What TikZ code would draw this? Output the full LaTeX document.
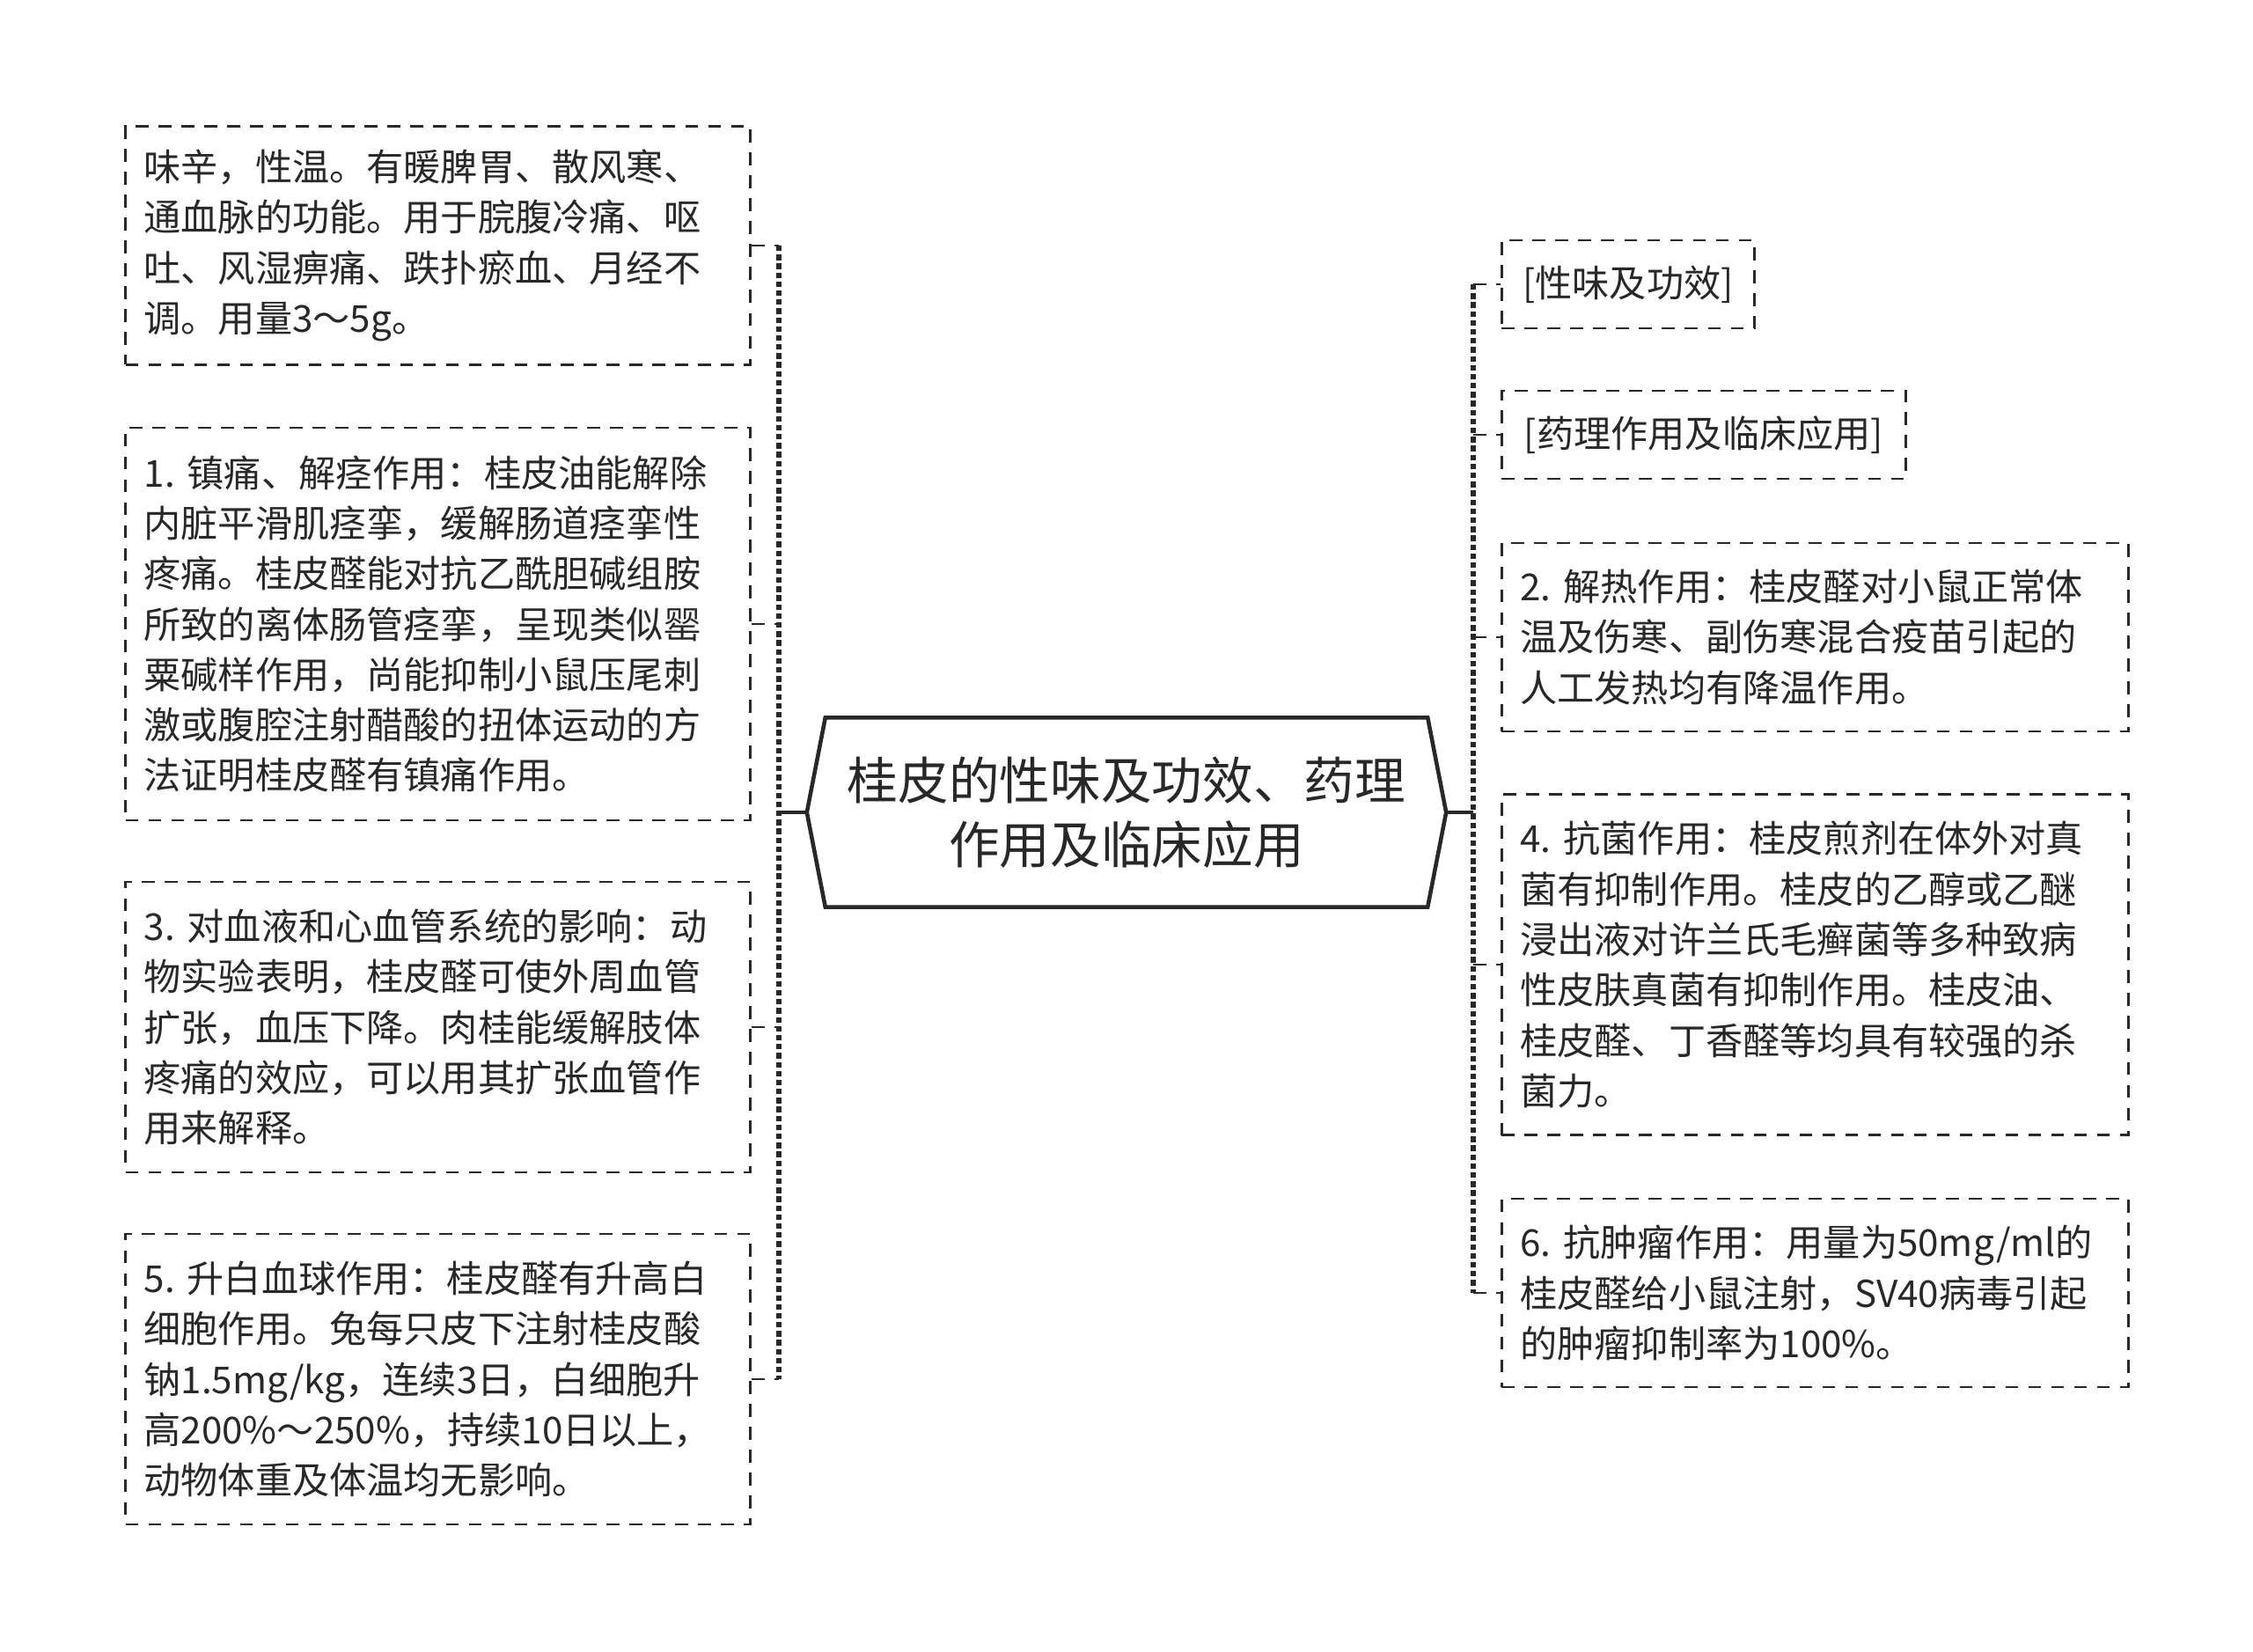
\documentclass[tikz,border=0pt]{standalone}
\usepackage{fontspec}
\setmainfont{Noto Sans CJK SC}[WordSpace=0.6]
\usetikzlibrary{positioning}
\definecolor{inkgray}{RGB}{40, 40, 40}

\begin{document}
\begin{tikzpicture}[
        leafbox/.style={draw=inkgray, line width=0.8pt, dash pattern=on 4.2pt off 3.2pt,
                    inner xsep=0.21cm, inner ysep=0pt, align=left, text=inkgray,
                    font=\fontsize{12}{16.3}\selectfont\frenchspacing},
        rootnode/.style={minimum width=7.25cm, minimum height=2.14cm, inner sep=0pt,
                    align=center, text=inkgray, font=\fontsize{16.4}{20.9}\selectfont},
        rootline/.style={draw=inkgray, line width=1.3pt, line join=miter},
        trunk/.style={draw=inkgray, line width=1.5pt, dash pattern=on 1.8pt off 1.1pt},
        branch/.style={draw=inkgray, line width=0.8pt, dash pattern=on 4.2pt off 3.2pt},
        stem/.style={draw=inkgray, line width=1.1pt}
    ]
    \useasboundingbox (0,0) rectangle (25.6,-18.77);

    % Root
    \node[rootnode] (root) at (12.80,-9.23) {桂皮的性味及功效、药理\\作用及临床应用};
    \draw[rootline] (root.west) -- ([xshift=0.21cm]root.north west)
        -- ([xshift=-0.21cm]root.north east) -- (root.east)
        -- ([xshift=-0.21cm]root.south east) -- ([xshift=0.21cm]root.south west) -- cycle;

    % Joints on both sides
    \coordinate (ljoint) at (8.85,-9.23);
    \coordinate (rjoint) at (16.74,-9.23);

    % Left column
    \node[leafbox, anchor=east, text width=6.68cm, minimum height=2.71cm] (prop) at (8.54,-2.79)
        {味辛，性温。有暖脾胃、散风寒、\\通血脉的功能。用于脘腹冷痛、呕\\吐、风湿痹痛、跌扑瘀血、月经不\\调。用量3～5g。};
    \node[leafbox, anchor=east, text width=6.68cm, minimum height=4.46cm] (analg) at (8.54,-7.09)
        {1. 镇痛、解痉作用：桂皮油能解除\\内脏平滑肌痉挛，缓解肠道痉挛性\\疼痛。桂皮醛能对抗乙酰胆碱组胺\\所致的离体肠管痉挛，呈现类似罂\\粟碱样作用，尚能抑制小鼠压尾刺\\激或腹腔注射醋酸的扭体运动的方\\法证明桂皮醛有镇痛作用。};
    \node[leafbox, anchor=east, text width=6.68cm, minimum height=3.30cm] (blood) at (8.54,-11.67)
        {3. 对血液和心血管系统的影响：动\\物实验表明，桂皮醛可使外周血管\\扩张，血压下降。肉桂能缓解肢体\\疼痛的效应，可以用其扩张血管作\\用来解释。};
    \node[leafbox, anchor=east, text width=6.68cm, minimum height=3.30cm] (wbc) at (8.54,-15.67)
        {5. 升白血球作用：桂皮醛有升高白\\细胞作用。兔每只皮下注射桂皮酸\\钠1.5mg/kg，连续3日，白细胞升\\高200\%～250\%，持续10日以上，\\动物体重及体温均无影响。};

    % Right column
    \node[leafbox, anchor=west, minimum width=2.87cm, minimum height=1.00cm] (hprop) at (17.05,-3.23)
        {[性味及功效]};
    \node[leafbox, anchor=west, minimum width=4.59cm, minimum height=1.00cm] (hpharm) at (17.05,-4.94)
        {[药理作用及临床应用]};
    \node[leafbox, anchor=west, text width=6.70cm, minimum height=2.14cm] (fever) at (17.05,-7.24)
        {2. 解热作用：桂皮醛对小鼠正常体\\温及伤寒、副伤寒混合疫苗引起的\\人工发热均有降温作用。};
    \node[leafbox, anchor=west, text width=6.70cm, minimum height=3.87cm] (fungi) at (17.05,-10.96)
        {4. 抗菌作用：桂皮煎剂在体外对真\\菌有抑制作用。桂皮的乙醇或乙醚\\浸出液对许兰氏毛癣菌等多种致病\\性皮肤真菌有抑制作用。桂皮油、\\桂皮醛、丁香醛等均具有较强的杀\\菌力。};
    \node[leafbox, anchor=west, text width=6.70cm, minimum height=2.14cm] (tumor) at (17.05,-14.69)
        {6. 抗肿瘤作用：用量为50mg/ml的\\桂皮醛给小鼠注射，SV40病毒引起\\的肿瘤抑制率为100\%。};

    % Left links
    \draw[stem] (root.west) -- (ljoint);
    \draw[trunk] (prop.east -| ljoint) -- (wbc.east -| ljoint);
    \draw[branch] (prop.east) -- (prop.east -| ljoint);
    \draw[branch] (analg.east) -- (analg.east -| ljoint);
    \draw[branch] (blood.east) -- (blood.east -| ljoint);
    \draw[branch] (wbc.east) -- (wbc.east -| ljoint);

    % Right links
    \draw[stem] (root.east) -- (rjoint);
    \draw[trunk] (hprop.west -| rjoint) -- (tumor.west -| rjoint);
    \draw[branch] (rjoint |- hprop.west) -- (hprop.west);
    \draw[branch] (rjoint |- hpharm.west) -- (hpharm.west);
    \draw[branch] (rjoint |- fever.west) -- (fever.west);
    \draw[branch] (rjoint |- fungi.west) -- (fungi.west);
    \draw[branch] (rjoint |- tumor.west) -- (tumor.west);

    \end{tikzpicture}
\end{document}
